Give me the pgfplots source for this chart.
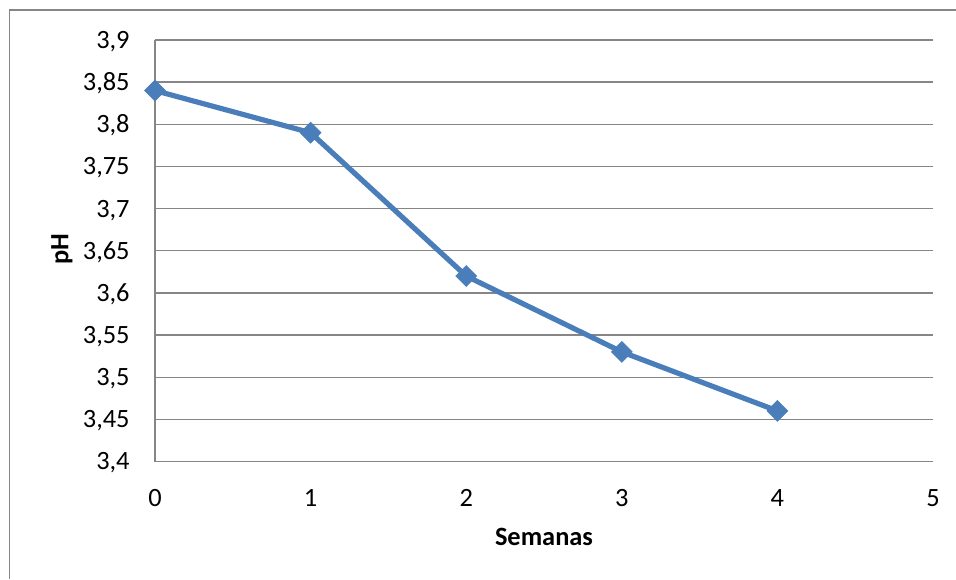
\documentclass[border=0pt]{standalone}
\usepackage{pgfplots}
\pgfplotsset{compat=1.18}
\usepackage{fontspec}
\setmainfont{Carlito}
\definecolor{serie}{HTML}{4A7EBB}
\definecolor{gridc}{HTML}{868686}
\begin{document}
\begin{tikzpicture}
\useasboundingbox (0,0) rectangle (478pt,289.5pt);
\draw[gridc, line width=0.7pt] (4.75pt,0) -- (4.75pt,284.5pt) -- (478pt,284.5pt);
\begin{axis}[
  at={(77.5pt,58.75pt)}, anchor=south west,
  scale only axis, width=389pt, height=210.75pt,
  xmin=0, xmax=5, ymin=3.4, ymax=3.9,
  xtick={0,1,2,3,4,5},
  ytick={3.4,3.45,3.5,3.55,3.6,3.65,3.7,3.75,3.8,3.85,3.9},
  yticklabels={{3,4},{3,45},{3,5},{3,55},{3,6},{3,65},{3,7},{3,75},{3,8},{3,85},{3,9}},
  /pgf/number format/assume math mode=true,
  axis line style={draw=none},
  major tick length=0pt,
  ymajorgrids, xmajorgrids=false, grid style={draw=gridc, line width=0.7pt},
  tick label style={font=\fontsize{13.2}{15}\selectfont, text=black, inner sep=0pt},
  yticklabel style={anchor=base east, xshift=-12.5pt, yshift=-4.2pt},
  xticklabel style={anchor=base, yshift=-22.3pt},
  clip=false,
]
\draw[gridc, line width=0.7pt] (axis cs:0,3.4) -- (axis cs:0,3.9);
\addplot[serie, line width=2.6pt, mark=square*, mark size=3.7pt,
  mark options={rotate=45, line width=0.3pt, fill=serie, draw=serie}]
  coordinates {(0,3.84) (1,3.79) (2,3.62) (3,3.53) (4,3.46)};
\end{axis}
\node[anchor=base, font=\fontsize{13.2}{15}\selectfont\bfseries, inner sep=0pt] at (272pt,17pt) {Semanas};
\node[rotate=90, anchor=center, font=\fontsize{13.2}{15}\selectfont\bfseries, inner sep=0pt] at (31pt,165pt) {pH};
\end{tikzpicture}
\end{document}
